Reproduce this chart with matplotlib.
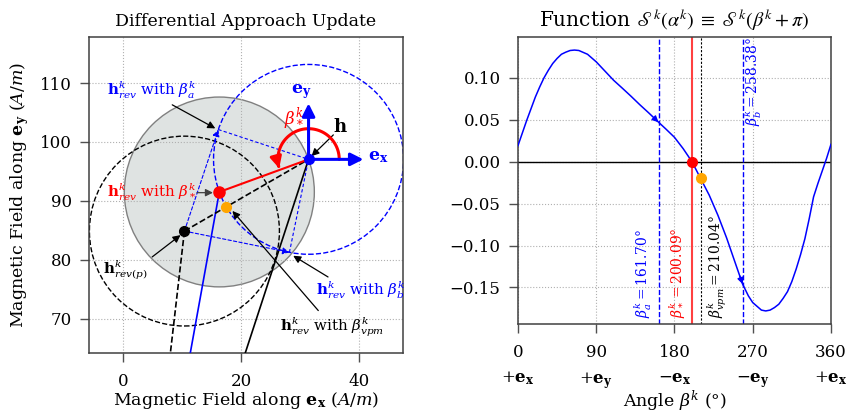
import numpy as np
import matplotlib
matplotlib.use('Agg')
import matplotlib.pyplot as plt
from matplotlib.patches import Circle, FancyArrowPatch
from matplotlib.path import Path

plt.rcParams['font.family'] = ['DejaVu Serif']
plt.rcParams['mathtext.fontset'] = 'dejavuserif'

# ---- data ----
h_field = [31.4, 97.05]        # current field h (A/m)
radius = 16.1                  # pinning radius
dist_p = 24.3                  # |h - h_rev(p)|
beta_a = 161.70
beta_star = 200.09
beta_vpm = 210.04
beta_b = 258.38
# where the previous-step paths leave the bottom of the plot
h_prev = [19.3, 60.0]
hrev_prev = [10.6, 60.0]
p_prev = [7.5, 60.0]

angle_deg = [0, 5, 10, 15, 20, 25, 30, 35, 40, 45, 50, 55, 60, 65, 70, 80, 90, 100,
             110, 120, 130, 140, 150, 161.7, 170, 180, 190, 200.09, 210.04, 220, 230,
             240, 250, 258.38, 265, 270, 280, 285, 290, 295, 300, 305, 310, 315, 320,
             325, 330, 335, 340, 345, 350, 355, 360]
s_values = [0.019, 0.034, 0.049, 0.063, 0.077, 0.089, 0.100, 0.109, 0.117, 0.123,
            0.128, 0.1305, 0.1325, 0.133, 0.1325, 0.128, 0.119, 0.108, 0.097, 0.0876,
            0.078, 0.068, 0.0585, 0.047, 0.039, 0.029, 0.0155, 0.0, -0.020, -0.040,
            -0.064, -0.091, -0.121, -0.146, -0.160, -0.168, -0.177, -0.178, -0.177,
            -0.174, -0.170, -0.163, -0.155, -0.143, -0.128, -0.111, -0.092, -0.068,
            -0.042, -0.026, -0.011, 0.004, 0.0206]

xtick_vals = [0, 90, 180, 270, 360]
xtick_dirs = [r'$+\mathbf{e_x}$', r'$+\mathbf{e_y}$', r'$-\mathbf{e_x}$',
              r'$-\mathbf{e_y}$', r'$+\mathbf{e_x}$']

h = np.array(h_field)


def on_circle(beta, rr=radius):
    t = np.deg2rad(beta)
    return h + rr * np.array([np.cos(t), np.sin(t)])


pt_a = on_circle(beta_a)
pt_b = on_circle(beta_b)
pt_star = on_circle(beta_star)
pt_vpm = on_circle(beta_vpm)
pt_p = on_circle(beta_vpm, dist_p)

fig = plt.figure(figsize=(8.48, 4.16), dpi=100)
ax1 = fig.add_axes([0.105, 0.1514, 0.3702, 0.7596])
ax2 = fig.add_axes([0.6108, 0.2212, 0.3691, 0.6898])

grid_kw = dict(color='#b0b0b0', ls=':', lw=0.8)
spine_c = '#404040'
for ax in (ax1, ax2):
    ax.grid(True, **grid_kw)
    for s in ax.spines.values():
        s.set_color(spine_c)
        s.set_linewidth(1.1)
    ax.tick_params(direction='out', length=6.5, width=1, color='#505050',
                   labelsize=12)
    ax.tick_params(axis='x', pad=8)
    ax.tick_params(axis='y', pad=6)

# ---------------- left: geometry ----------------
ax1.add_patch(Circle(pt_star, radius, facecolor='#dfe3e2', edgecolor='gray', lw=1, zorder=1))
ax1.add_patch(Circle(pt_p, radius, fill=False, ls='--', ec='k', lw=1, zorder=2))
ax1.add_patch(Circle(h, radius, fill=False, ls='--', ec='blue', lw=1, zorder=2))

ax1.plot([h_prev[0], h[0]], [h_prev[1], h[1]], color='k', lw=1.2, zorder=3)
ax1.plot([hrev_prev[0], pt_star[0]], [hrev_prev[1], pt_star[1]], color='blue', lw=1.2, zorder=3)
ax1.plot([p_prev[0], pt_p[0]], [p_prev[1], pt_p[1]], color='k', lw=1.2, ls='--', zorder=3)
ax1.plot([pt_p[0], h[0]], [pt_p[1], h[1]], color='k', lw=1.2, ls='--', zorder=3)

for q in (pt_a, pt_b):
    ax1.plot([q[0], h[0]], [q[1], h[1]], color='blue', lw=0.8, ls=(0, (3, 2)), zorder=3)
    ax1.annotate('', xy=q, xytext=pt_p,
                 arrowprops=dict(arrowstyle='-|>', color='blue', lw=0.8, ls=(0, (3, 2)),
                                 mutation_scale=10, shrinkA=0, shrinkB=0), zorder=3)

ax1.plot([h[0], pt_star[0]], [h[1], pt_star[1]], color='red', lw=1.5, zorder=4)

arc_t = np.deg2rad(np.linspace(0, 197, 60))
arc_r = 5.2
arc = Path(np.column_stack([h[0] + arc_r * np.cos(arc_t), h[1] + arc_r * np.sin(arc_t)]))
ax1.add_patch(FancyArrowPatch(path=arc, arrowstyle='-|>', mutation_scale=17,
                              color='red', lw=2.2, zorder=5))

for d in ([9.3, 0], [0, 9.5]):
    ax1.annotate('', xy=(h[0] + d[0], h[1] + d[1]), xytext=h,
                 arrowprops=dict(arrowstyle='-|>', color='blue', lw=2.2,
                                 mutation_scale=19, shrinkA=0, shrinkB=0), zorder=5)

ax1.plot(*h, 'o', color='blue', ms=7, zorder=6)
ax1.plot(*pt_star, 'o', color='red', ms=8, zorder=6)
ax1.plot(*pt_p, 'o', color='k', ms=7, zorder=6)
ax1.plot(*pt_vpm, 'o', color='orange', ms=7, zorder=6)

arr = dict(arrowstyle='-|>', color='k', lw=0.9, mutation_scale=11, shrinkA=0, shrinkB=0)
lab_fs = 10.8
ax1.text(-2.7, 108.8, r'$\mathbf{h}^k_{rev}$ with $\beta^k_a$', color='blue',
         fontsize=lab_fs, ha='left', va='center')
ax1.annotate('', xy=(15.6, 102.3), xytext=(8.3, 106.3), arrowprops=arr)

ax1.text(-2.7, 91.4, r'$\mathbf{h}^k_{rev}$ with $\beta^k_*$', color='red',
         fontsize=lab_fs, ha='left', va='center')
ax1.annotate('', xy=(15.2, 91.4), xytext=(12.5, 91.4), arrowprops=dict(arr, color='#404040'))

ax1.text(-3.4, 78.3, r'$\mathbf{h}^k_{rev(p)}$', color='k', fontsize=lab_fs,
         ha='left', va='center')
ax1.annotate('', xy=(9.7, 84.2), xytext=(4.9, 80.5), arrowprops=arr)

ax1.text(32.7, 74.9, r'$\mathbf{h}^k_{rev}$ with $\beta^k_b$', color='blue',
         fontsize=lab_fs, ha='left', va='center')
ax1.annotate('', xy=(28.8, 80.7), xytext=(34.7, 77.1), arrowprops=arr)

ax1.text(26.6, 68.6, r'$\mathbf{h}^k_{rev}$ with $\beta^k_{vpm}$', color='k',
         fontsize=lab_fs, ha='left', va='center')
ax1.annotate('', xy=(18.5, 88.3), xytext=(33.05, 71.4), arrowprops=arr)

ax1.text(36.8, 102.5, r'$\mathbf{h}$', color='k', fontsize=13, ha='center', va='center')
ax1.annotate('', xy=(31.9, 97.6), xytext=(35.6, 101.2), arrowprops=arr)
ax1.text(28.9, 103.9, r'$\beta^k_*$', color='red', fontsize=12, ha='center', va='center')
ax1.text(43.2, 97.5, r'$\mathbf{e_x}$', color='blue', fontsize=12.5, ha='center', va='center')
ax1.text(30.2, 108.6, r'$\mathbf{e_y}$', color='blue', fontsize=12.5, ha='center', va='center')

ax1.set_xlim(-5.8, 47.4)
ax1.set_ylim(64.2, 117.8)
ax1.set_xticks([0, 20, 40])
ax1.set_yticks([70, 80, 90, 100, 110])
ax1.set_title('Differential Approach Update', fontsize=12.5, pad=8)
ax1.set_xlabel(r'Magnetic Field along $\mathbf{e_x}$ $(A/m)$', fontsize=12.5, labelpad=0)
ax1.set_ylabel(r'Magnetic Field along $\mathbf{e_y}$ $(A/m)$', fontsize=12.5, labelpad=6)

# ---------------- right: S function ----------------
ax2.plot(angle_deg, s_values, color='blue', lw=1.1, zorder=3)
ax2.axhline(0, color='k', lw=1, zorder=2)

for b0, b1, s0, s1 in ((158.0, beta_a, 0.0506, 0.047), (255.0, beta_b, -0.136, -0.146)):
    ax2.annotate('', xy=(b1, s1), xytext=(b0, s0),
                 arrowprops=dict(arrowstyle='-|>', color='blue', lw=1, mutation_scale=9,
                                 shrinkA=0, shrinkB=0), zorder=4)

ax2.axvline(beta_a, color='blue', ls='--', lw=1)
ax2.axvline(beta_b, color='blue', ls='--', lw=1)
ax2.axvline(beta_star, color='#ff4040', ls='-', lw=1.5)
ax2.axvline(beta_vpm, color='k', ls=(0, (2, 1.5)), lw=0.8)
ax2.plot(beta_star, 0, 'o', color='red', ms=7, zorder=5)
ax2.plot(beta_vpm, np.interp(beta_vpm, angle_deg, s_values), 'o', color='orange', ms=7, zorder=5)

rot_fs = 10
ax2.text(beta_a - 5.5, -0.186, r'$\beta^k_a = $' + '%.2f°' % beta_a, color='blue',
         rotation=90, ha='right', va='bottom', fontsize=rot_fs)
ax2.text(beta_star - 5.5, -0.186, r'$\beta^k_* = $' + '%.2f°' % beta_star, color='red',
         rotation=90, ha='right', va='bottom', fontsize=rot_fs)
ax2.text(beta_vpm + 6.5, -0.186, r'$\beta^k_{vpm} = $' + '%.2f°' % beta_vpm, color='k',
         rotation=90, ha='left', va='bottom', fontsize=rot_fs)
ax2.text(beta_b + 0.5, 0.148, r'$\beta^k_b = $' + '%.2f°' % beta_b, color='blue',
         rotation=90, ha='left', va='top', fontsize=rot_fs)

ax2.set_xlim(0, 360)
ax2.set_xticks(xtick_vals)
ax2.set_xticklabels(['%d\n%s' % (v, d) for v, d in zip(xtick_vals, xtick_dirs)],
                    linespacing=1.65)
ax2.set_yticks([-0.15, -0.10, -0.05, 0.0, 0.05, 0.10])
ax2.set_yticklabels(['\u22120.15', '\u22120.10', '\u22120.05', '0.00', '0.05', '0.10'])
ax2.set_title(r'Function $\mathscr{S}^k(\alpha^k) \;\equiv\; \mathscr{S}^k(\beta^k + \pi)$',
              fontsize=14.5, pad=7, math_fontfamily='stix')
ax2.set_xlabel(r'Angle $\beta^k$ $(°)$', fontsize=12.5, labelpad=-1)

fig.savefig('out.png', dpi=100)
